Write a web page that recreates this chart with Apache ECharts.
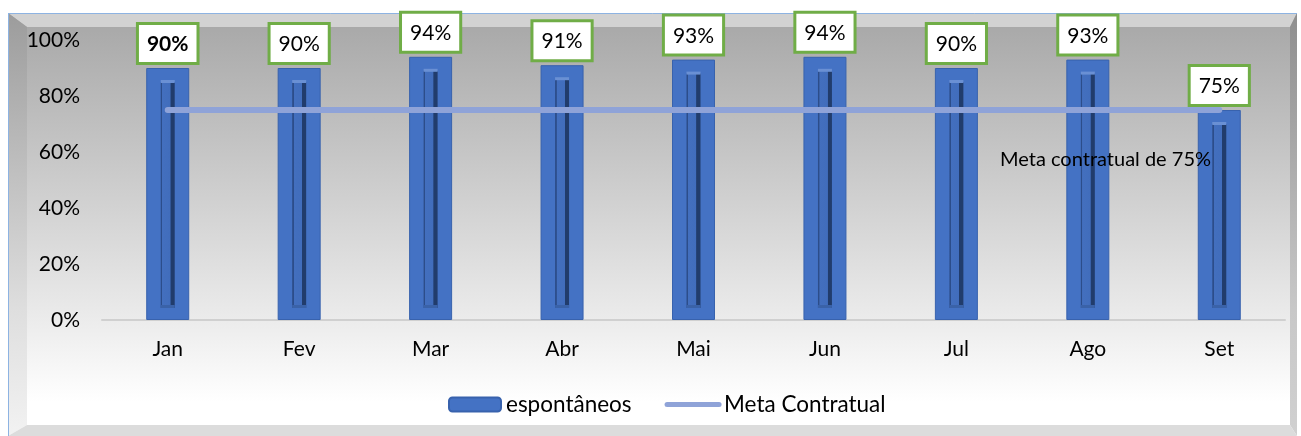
<!DOCTYPE html>
<html><head><meta charset="utf-8">
<script src="https://cdn.jsdelivr.net/npm/echarts@6/dist/echarts.min.js"></script>
<style>html,body{margin:0;padding:0;background:#fff}#c{width:1301px;height:436px}</style>
</head><body><div id="c"></div>
<script>
var categories = ['Jan','Fev','Mar','Abr','Mai','Jun','Jul','Ago','Set'];
var espontaneos = [90, 90, 94, 91, 93, 94, 90, 93, 75];
var metaContratual = [75, 75, 75, 75, 75, 75, 75, 75, 75];
var yTicks = [0, 20, 40, 60, 80, 100];
var annotationText = 'Meta contratual de 75%';
var FONT = 'Lato, "Open Sans", sans-serif';

var chart = echarts.init(document.getElementById('c'), null, {renderer:'canvas'});

var barData = espontaneos.map(function(v, i){
  return i === 0 ? {value: v, label: {fontWeight: 'bold'}} : v;
});
var grooveData = espontaneos.map(function(v, i){ return [i, v]; });

var option = {
  animation: false,
  textStyle: {fontFamily: FONT},
  graphic: [
    {type:'rect', z:-10, silent:true, shape:{x:8, y:13, width:1289, height:423},
     style:{fill:new echarts.graphic.LinearGradient(0,0,0,1,[
       {offset:0,color:'#a6a6a6'},{offset:0.72,color:'#ebebeb'},{offset:0.92,color:'#ffffff'},{offset:1,color:'#ffffff'}])}},
    {type:'polygon', z:-9, silent:true, shape:{points:[[8,13],[1297,13],[1290,27],[27,27]]},
     style:{fill:'#d2d2d2'}},
    {type:'polygon', z:-9, silent:true, shape:{points:[[8,13],[27,27],[27,425],[8,436]]},
     style:{fill:new echarts.graphic.LinearGradient(0,0,0,1,[
       {offset:0,color:'#9c9c9c'},{offset:0.7,color:'#dedede'},{offset:1,color:'#f2f2f2'}])}},
    {type:'polygon', z:-9, silent:true, shape:{points:[[1297,13],[1297,436],[1290,425],[1290,27]]},
     style:{fill:new echarts.graphic.LinearGradient(0,0,0,1,[
       {offset:0,color:'#8e8e8e'},{offset:0.7,color:'#c8c8c8'},{offset:1,color:'#d0d0d0'}])}},
    {type:'polygon', z:-9, silent:true, shape:{points:[[27,425],[1290,425],[1297,436],[8,436]]},
     style:{fill:'#dcdcdc'}},
    {type:'line', z:-8, silent:true, shape:{x1:8.5,y1:13,x2:8.5,y2:436}, style:{stroke:'#8db3e2',lineWidth:1}},
    {type:'line', z:-8, silent:true, shape:{x1:8,y1:13.5,x2:1297,y2:13.5}, style:{stroke:'#8db3e2',lineWidth:1}},
    {type:'text', z:100, silent:true, left:1000, top:150,
     style:{text:annotationText, fill:'#000', font:'20px ' + FONT}}
  ],
  legend: {
    left: 443, top: 388,
    itemWidth: 52, itemHeight: 14, itemGap: 33,
    textStyle: {fontSize: 22.5, color: '#000', fontFamily: FONT},
    data: [
      {name: 'espontâneos'},
      {name: 'Meta Contratual', itemStyle: {color: 'rgba(0,0,0,0)', borderWidth: 0, opacity: 0},
       lineStyle: {width: 5, cap: 'round', color: '#8fa3d8'}}
    ]
  },
  grid: {left: 102, right: 16, top: 40, bottom: 116, containLabel: false},
  xAxis: {
    type: 'category', data: categories,
    axisLine: {lineStyle: {color: '#d0d0d0', width: 2}},
    axisTick: {show: false},
    axisLabel: {fontSize: 21, color: '#000', margin: 19, fontFamily: FONT}
  },
  yAxis: {
    type: 'value', min: 0, max: 100, interval: 20,
    splitLine: {show: false},
    axisLine: {show: false}, axisTick: {show: false},
    axisLabel: {fontSize: 21, color: '#000', margin: 22, fontFamily: FONT,
      formatter: function(v){ return yTicks.indexOf(v) >= 0 ? v + '%' : ''; }}
  },
  series: [
    {
      name: 'espontâneos', type: 'bar', data: barData, barWidth: 43, z: 2,
      itemStyle: {color: '#4472c4', borderColor: '#3862ad', borderWidth: 1},
      label: {
        show: true, position: 'top', distance: 6,
        formatter: '{c}%', fontSize: 21, lineHeight: 21, color: '#000', fontFamily: FONT,
        backgroundColor: '#fff', borderColor: '#70ad47', borderWidth: 3,
        padding: [9, 8, 7, 8]
      }
    },
    {
      name: 'groove', type: 'custom', data: grooveData, z: 3, silent: true,
      encode: {x: 0, y: 1},
      renderItem: function(params, api){
        var t = api.coord([api.value(0), api.value(1)]);
        var b = api.coord([api.value(0), 0]);
        var cx = t[0], top = t[1] + 14, bottom = b[1] - 12;
        return {type: 'group', children: [
          {type:'rect', shape:{x:cx-7, y:top, width:14, height:bottom-top},
           style:{fill:new echarts.graphic.LinearGradient(0,0,1,0,[
             {offset:0,color:'#2c4d8a'},{offset:0.1,color:'#2c4d8a'},
             {offset:0.12,color:'#436fbe'},{offset:0.68,color:'#416dbc'},
             {offset:0.72,color:'#213c6c'},{offset:1,color:'#213c6c'}])}},
          {type:'rect', shape:{x:cx-7, y:top-2, width:14, height:3}, style:{fill:'#6a90d4'}},
          {type:'rect', shape:{x:cx-7, y:bottom-3, width:14, height:3}, style:{fill:'#3a62a8'}}
        ]};
      }
    },
    {
      name: 'Meta Contratual', type: 'line', data: metaContratual, z: 4,
      symbol: 'none',
      lineStyle: {color: '#8fa3d8', width: 6, cap: 'round'},
      itemStyle: {color: '#8fa3d8'}
    }
  ]
};
chart.setOption(option);
</script></body></html>
